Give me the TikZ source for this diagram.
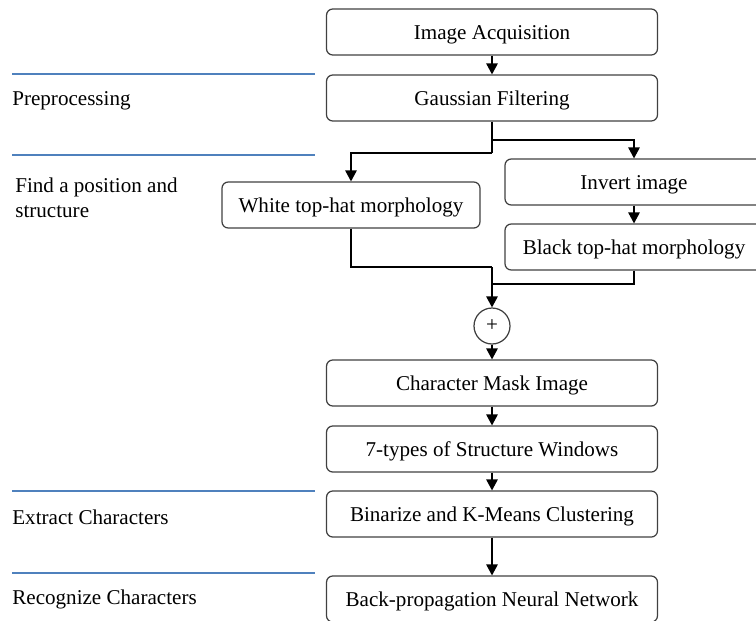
\documentclass[tikz,border=0pt]{standalone}
\usepackage{fontspec}
\setmainfont{Liberation Serif}
\usepackage{xcolor}
\usetikzlibrary{arrows.meta,positioning}

\definecolor{stagecol}{RGB}{79,129,189}
\definecolor{boxline}{RGB}{64,64,64}

\begin{document}
\begin{tikzpicture}[
    x=0.02cm, y=-0.02cm,
    font=\fontsize{12}{14.2}\selectfont,
    >={Triangle[length=2.2mm,width=2.3mm]},
    stepbox/.style={draw=boxline, line width=0.7pt, rounded corners=3.5pt,
                    minimum height=0.92cm, inner sep=2pt, align=center,
                    text height=11pt, text depth=2.5pt},
    mainbox/.style={stepbox, minimum width=6.62cm},
    sidebox/.style={stepbox, minimum width=5.16cm},
    stage/.style={anchor=west, align=left, inner sep=0pt},
    rule/.style={draw=stagecol, line width=0.6pt},
    line/.style={draw=black, line width=0.7pt},
    edge/.style={->, line width=0.7pt}
]
\clip (0,0) rectangle (756,620);

% --- Stage rules and labels on the left ---
\draw[rule] (12,74) -- (315,74);
\draw[rule] (12,155) -- (315,155);
\draw[rule] (12,491) -- (315,491);
\draw[rule] (12,573) -- (315,573);

\node[stage] (lpre) at (12,101) {Preprocessing};
\node[stage] (lfind) at (15,198) {Find a position and\\structure};
\node[stage] (lext) at (12,517) {Extract Characters};
\node[stage] (lrec) at (12,599) {Recognize Characters};

% --- Main flow ---
\node[mainbox] (acq)   at (492,32)  {Image Acquisition};
\node[mainbox] (gauss) at (492,98)  {Gaussian Filtering};
\node[sidebox] (white) at (351,205) {White top-hat morphology};
\node[sidebox] (inv)   at (634,182) {Invert image};
\node[sidebox] (black) at (634,247) {Black top-hat morphology};
\node[draw=boxline, line width=0.7pt, circle, minimum size=0.72cm,
      inner sep=0pt] (plus) at (492,326) {+};
\node[mainbox] (mask)  at (492,383) {Character Mask Image};
\node[mainbox] (win)   at (492,449) {7-types of Structure Windows};
\node[mainbox] (bin)   at (492,514) {Binarize and K-Means Clustering};
\node[mainbox] (bpnn)  at (492,599) {Back-propagation Neural Network};

% split and join points
\coordinate (splitR) at (492,140);
\coordinate (splitL) at (492,153);
\coordinate (joinW)  at (492,267);
\coordinate (joinB)  at (492,284);

% --- Connectors ---
\draw[edge] (acq) -- (gauss);
\draw[line] (gauss.south) -- (splitL);
\draw[edge] (splitR) -| (inv.north);
\draw[edge] (splitL) -| (white.north);
\draw[edge] (inv) -- (black);
\draw[line] (white.south) |- (joinW);
\draw[line] (black.south) |- (joinB);
\draw[edge] (joinW) -- (plus.north);
\draw[edge] (plus) -- (mask);
\draw[edge] (mask) -- (win);
\draw[edge] (win) -- (bin);
\draw[edge] (bin) -- (bpnn);

\end{tikzpicture}
\end{document}
